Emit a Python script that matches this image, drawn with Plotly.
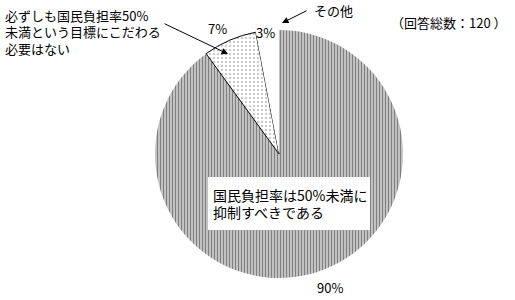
import plotly.graph_objects as go

# Survey answers (share of respondents, %)
labels = ["国民負担率は50%未満に抑制すべきである",
          "必ずしも国民負担率50%未満という目標にこだわる必要はない",
          "その他"]
values = [90, 7, 3]
total_answers = 120

W, H = 515, 300
FONT = "Noto Sans CJK JP"


def px(x):
    return x / W


def py(y):
    return 1 - y / H


fig = go.Figure(go.Pie(
    labels=labels,
    values=values,
    sort=False,
    direction="clockwise",
    rotation=0,
    textinfo="none",
    hoverinfo="label+percent",
    showlegend=False,
    domain=dict(x=[px(155), px(403)], y=[py(278), py(30)]),
    marker=dict(
        colors=["white", "white", "white"],
        line=dict(color=["black", "black", "white"], width=[0, 1, 0]),
        pattern=dict(
            shape=["|", ".", ""],
            fgcolor="black",
            bgcolor="white",
            size=[3, 4, 8],
            solidity=[0.65, 0.12, 0.3],
            fillmode="overlay",
        ),
    ),
))

ann = []
txt = dict(family=FONT, size=13, color="black")

# percentage labels
pct_pos = [(330, 287), (217, 28), (265, 32)]
for v, (x, y) in zip(values, pct_pos):
    ann.append(dict(x=px(x), y=py(y), xref="paper", yref="paper",
                    text=f"{v}%", showarrow=False, font=txt,
                    xanchor="center", yanchor="middle"))

# left category label (one annotation per line) with leader arrow
left_lines = ["必ずしも国民負担率50%", "未満という目標にこだわる", "必要はない"]
for i, line in enumerate(left_lines):
    ann.append(dict(x=px(4), y=py(15 + 16.5 * i), xref="paper", yref="paper",
                    text=line, showarrow=False, font=txt, borderpad=0,
                    xanchor="left", yanchor="middle"))
ann.append(dict(x=px(228), y=py(54), xref="paper", yref="paper", text="",
                showarrow=True, arrowhead=2, arrowsize=1.3, arrowwidth=1,
                arrowcolor="black", ax=163 - 228, ay=23 - 54))

# "other" label with leader arrow
ann.append(dict(x=px(312), y=py(11), xref="paper", yref="paper",
                text="その他", showarrow=False, font=txt,
                xanchor="left", yanchor="middle"))
ann.append(dict(x=px(282), y=py(23), xref="paper", yref="paper", text="",
                showarrow=True, arrowhead=2, arrowsize=1.3, arrowwidth=1,
                arrowcolor="black", ax=308 - 282, ay=10 - 23))

# number of answers
ann.append(dict(x=px(389), y=py(22), xref="paper", yref="paper",
                text=f"（回答総数：{total_answers} ）", showarrow=False,
                font=txt, xanchor="left", yanchor="middle"))

# main category label on a white box inside the large slice
main_lines = ["国民負担率は50%未満に", "抑制すべきである"]
for i, line in enumerate(main_lines):
    ann.append(dict(x=px(212), y=py(195 + 17 * i), xref="paper", yref="paper",
                    text=line, showarrow=False, borderpad=0,
                    font=dict(family=FONT, size=14, color="black"),
                    xanchor="left", yanchor="middle"))

fig.update_layout(
    width=W, height=H,
    margin=dict(l=0, r=0, t=0, b=0),
    paper_bgcolor="white",
    plot_bgcolor="white",
    annotations=ann,
    shapes=[dict(type="rect", xref="paper", yref="paper",
                 x0=px(208), x1=px(370), y0=py(230), y1=py(177),
                 fillcolor="white", line=dict(width=0), layer="above")],
)

fig.write_html("out.html")
